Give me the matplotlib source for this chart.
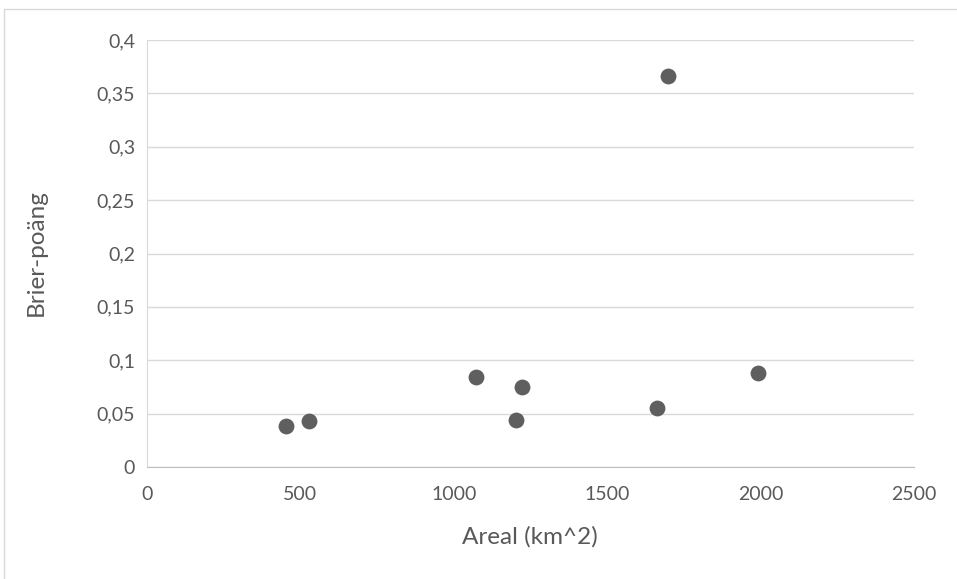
import matplotlib
matplotlib.use("Agg")
import matplotlib.pyplot as plt
from matplotlib.patches import Rectangle
from matplotlib.ticker import FixedLocator, FuncFormatter

areal = [453, 528, 1073, 1222, 1203, 1663, 1698, 1992]
brier = [0.0384, 0.0431, 0.0843, 0.075, 0.044, 0.0553, 0.366, 0.088]
x_ticks = [0, 500, 1000, 1500, 2000, 2500]
y_ticks = [0, 0.05, 0.1, 0.15, 0.2, 0.25, 0.3, 0.35, 0.4]

plt.rcParams['font.family'] = ['Lato', 'DejaVu Sans']

W, H = 957, 579
fig = plt.figure(figsize=(W/100, H/100), dpi=100)
ax = fig.add_axes([147/W, 1-467/H, (914-147)/W, (467-40)/H])

# outer chart border
fig.patches.append(Rectangle((4/W, -0.02), 1.05, 1-9/H+0.02, transform=fig.transFigure,
                             fill=False, edgecolor='#d9d9d9', linewidth=1.0))

ax.scatter(areal, brier, s=130, color='#5f5f5f', zorder=3, linewidths=0)

ax.set_xlim(0, 2500)
ax.set_ylim(0, 0.4)
ax.xaxis.set_major_locator(FixedLocator(x_ticks))
ax.yaxis.set_major_locator(FixedLocator(y_ticks))

def fmt_y(v, pos):
    s = ('%.2f' % v).rstrip('0').rstrip('.')
    return s.replace('.', ',')

ax.yaxis.set_major_formatter(FuncFormatter(fmt_y))
ax.xaxis.set_major_formatter(FuncFormatter(lambda v, p: '%d' % v))

ax.grid(axis='y', color='#d9d9d9', linewidth=1.0)
ax.set_axisbelow(True)
for s in ['top', 'right']:
    ax.spines[s].set_visible(False)
ax.spines['left'].set_color('#d9d9d9')
ax.spines['bottom'].set_color('#bfbfbf')
ax.tick_params(length=0, labelsize=14, labelcolor='#595959')
ax.tick_params(axis='y', pad=8.5)
ax.tick_params(axis='x', pad=14)

ax.set_xlabel('Areal (km^2)', fontsize=17.5, color='#595959', va='center')
ax.set_ylabel('Brier-poäng', fontsize=17.5, color='#595959', va='center')
ax.xaxis.set_label_coords((530 - 147) / 767, (467 - 537) / 427)
ax.yaxis.set_label_coords((36 - 147) / 767, (467 - 253) / 427)

fig.savefig('out.png', dpi=100)
